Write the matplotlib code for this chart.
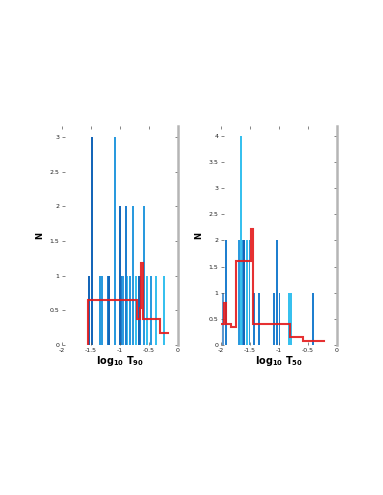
import matplotlib
matplotlib.use("Agg")
import matplotlib.pyplot as plt
import numpy as np

plt.rcParams['mathtext.default'] = 'bf'
plt.rcParams['font.family'] = ['DejaVu Sans']

# ---- Left panel (T90) ----
t90_x = [-1.529, -1.488, -1.35, -1.31, -1.212, -1.195, -1.086, -1.006, -0.994, -0.97,
         -0.95, -0.902, -0.87, -0.83, -0.776, -0.73, -0.67, -0.645, -0.592, -0.53,
         -0.46, -0.385, -0.247]
t90_n = [1, 3, 1, 1, 1, 1, 3, 1, 2, 1, 1, 2, 1, 1, 2, 1, 1, 1, 2, 1, 1, 1, 1]
t90_step_x = [-1.55, -0.71, -0.66, -0.63, -0.61, -0.31, -0.17]
t90_step_y = [0.65, 0.38, 0.53, 1.18, 0.38, 0.18]

# ---- Right panel (T50) ----
t50_x = [-1.97, -1.91, -1.70, -1.685, -1.65, -1.63, -1.605, -1.55, -1.51, -1.43,
         -1.35, -1.09, -1.03, -0.99, -0.83, -0.79, -0.42]
t50_n = [1, 2, 2, 2, 4, 2, 2, 2, 2, 1, 1, 1, 2, 1, 1, 1, 1]
t50_step_x = [-2.02, -1.95, -1.92, -1.82, -1.74, -1.48, -1.45, -0.805, -0.59, -0.22]
t50_step_y = [0.40, 0.80, 0.40, 0.35, 1.61, 2.21, 0.41, 0.16, 0.083]

xticks = [-2, -1.5, -1, -0.5, 0]
xticklabels = ['-2', '-1.5', '-1', '-0.5', '0']

palette = ['#1566b8', '#1f7fcf', '#2a9ade', '#37c0ee', '#5d98cf']
t90_colors = [palette[0], palette[0], palette[2], palette[2], palette[1], palette[0],
              palette[2], palette[1], palette[0], palette[1], palette[2], palette[1],
              palette[3], palette[2], palette[2], palette[3], palette[0], palette[1],
              palette[2], palette[3], palette[2], palette[3], palette[3]]
t50_colors = [palette[4], palette[1], palette[1], palette[2], palette[3], palette[2],
              palette[0], palette[3], palette[2], palette[1], palette[1], palette[1],
              palette[1], palette[1], palette[3], palette[3], palette[1]]

fig = plt.figure(figsize=(3.83, 4.95), dpi=100)
axL = fig.add_axes([62/383, 1-345/495, 116/383, 219/495])
axR = fig.add_axes([221/383, 1-345/495, 116/383, 219/495])


def style(ax, ymax, yticks, label):
    ax.set_xlim(-2, 0)
    ax.set_ylim(0, ymax)
    ax.set_xticks(xticks)
    ax.set_xticklabels(xticklabels)
    ax.set_yticks(yticks)
    ax.set_yticklabels([('%g' % t) for t in yticks])
    for s in ['left', 'bottom', 'top']:
        ax.spines[s].set_visible(False)
    ax.spines['right'].set_color('#b5b5b5')
    ax.spines['right'].set_linewidth(1.8)
    ax.tick_params(axis='both', labelsize=4.5, length=2, width=0.5,
                   direction='in', colors='#555555', labelcolor='#222222', pad=2)
    ax.tick_params(top=True, right=True)
    ax.set_xlabel(label, fontsize=7, labelpad=1)
    ax.set_ylabel('N', fontsize=6, fontweight='bold', labelpad=4)


def draw_steps(ax, edges, vals):
    xs = np.asarray(edges, dtype=float)
    ys = np.asarray(vals, dtype=float)
    px = np.concatenate([[xs[0]], np.repeat(xs, 2)[1:-1]])
    py = np.concatenate([[0.0], np.repeat(ys, 2)])
    ax.plot(px, py, color='#e41a1c', linewidth=1.5, alpha=0.9,
            solid_joinstyle='miter')


axL.bar(t90_x, t90_n, width=0.03, color=t90_colors, linewidth=0)
draw_steps(axL, t90_step_x, t90_step_y)
style(axL, 3.156, [0, 0.5, 1, 1.5, 2, 2.5, 3], r'$log_{10}\ T_{90}$')

axR.bar(t50_x, t50_n, width=0.03, color=t50_colors, linewidth=0)
draw_steps(axR, t50_step_x, t50_step_y)
style(axR, 4.19, [0, 0.5, 1, 1.5, 2, 2.5, 3, 3.5, 4], r'$log_{10}\ T_{50}$')

fig.savefig('out.png', dpi=100)
